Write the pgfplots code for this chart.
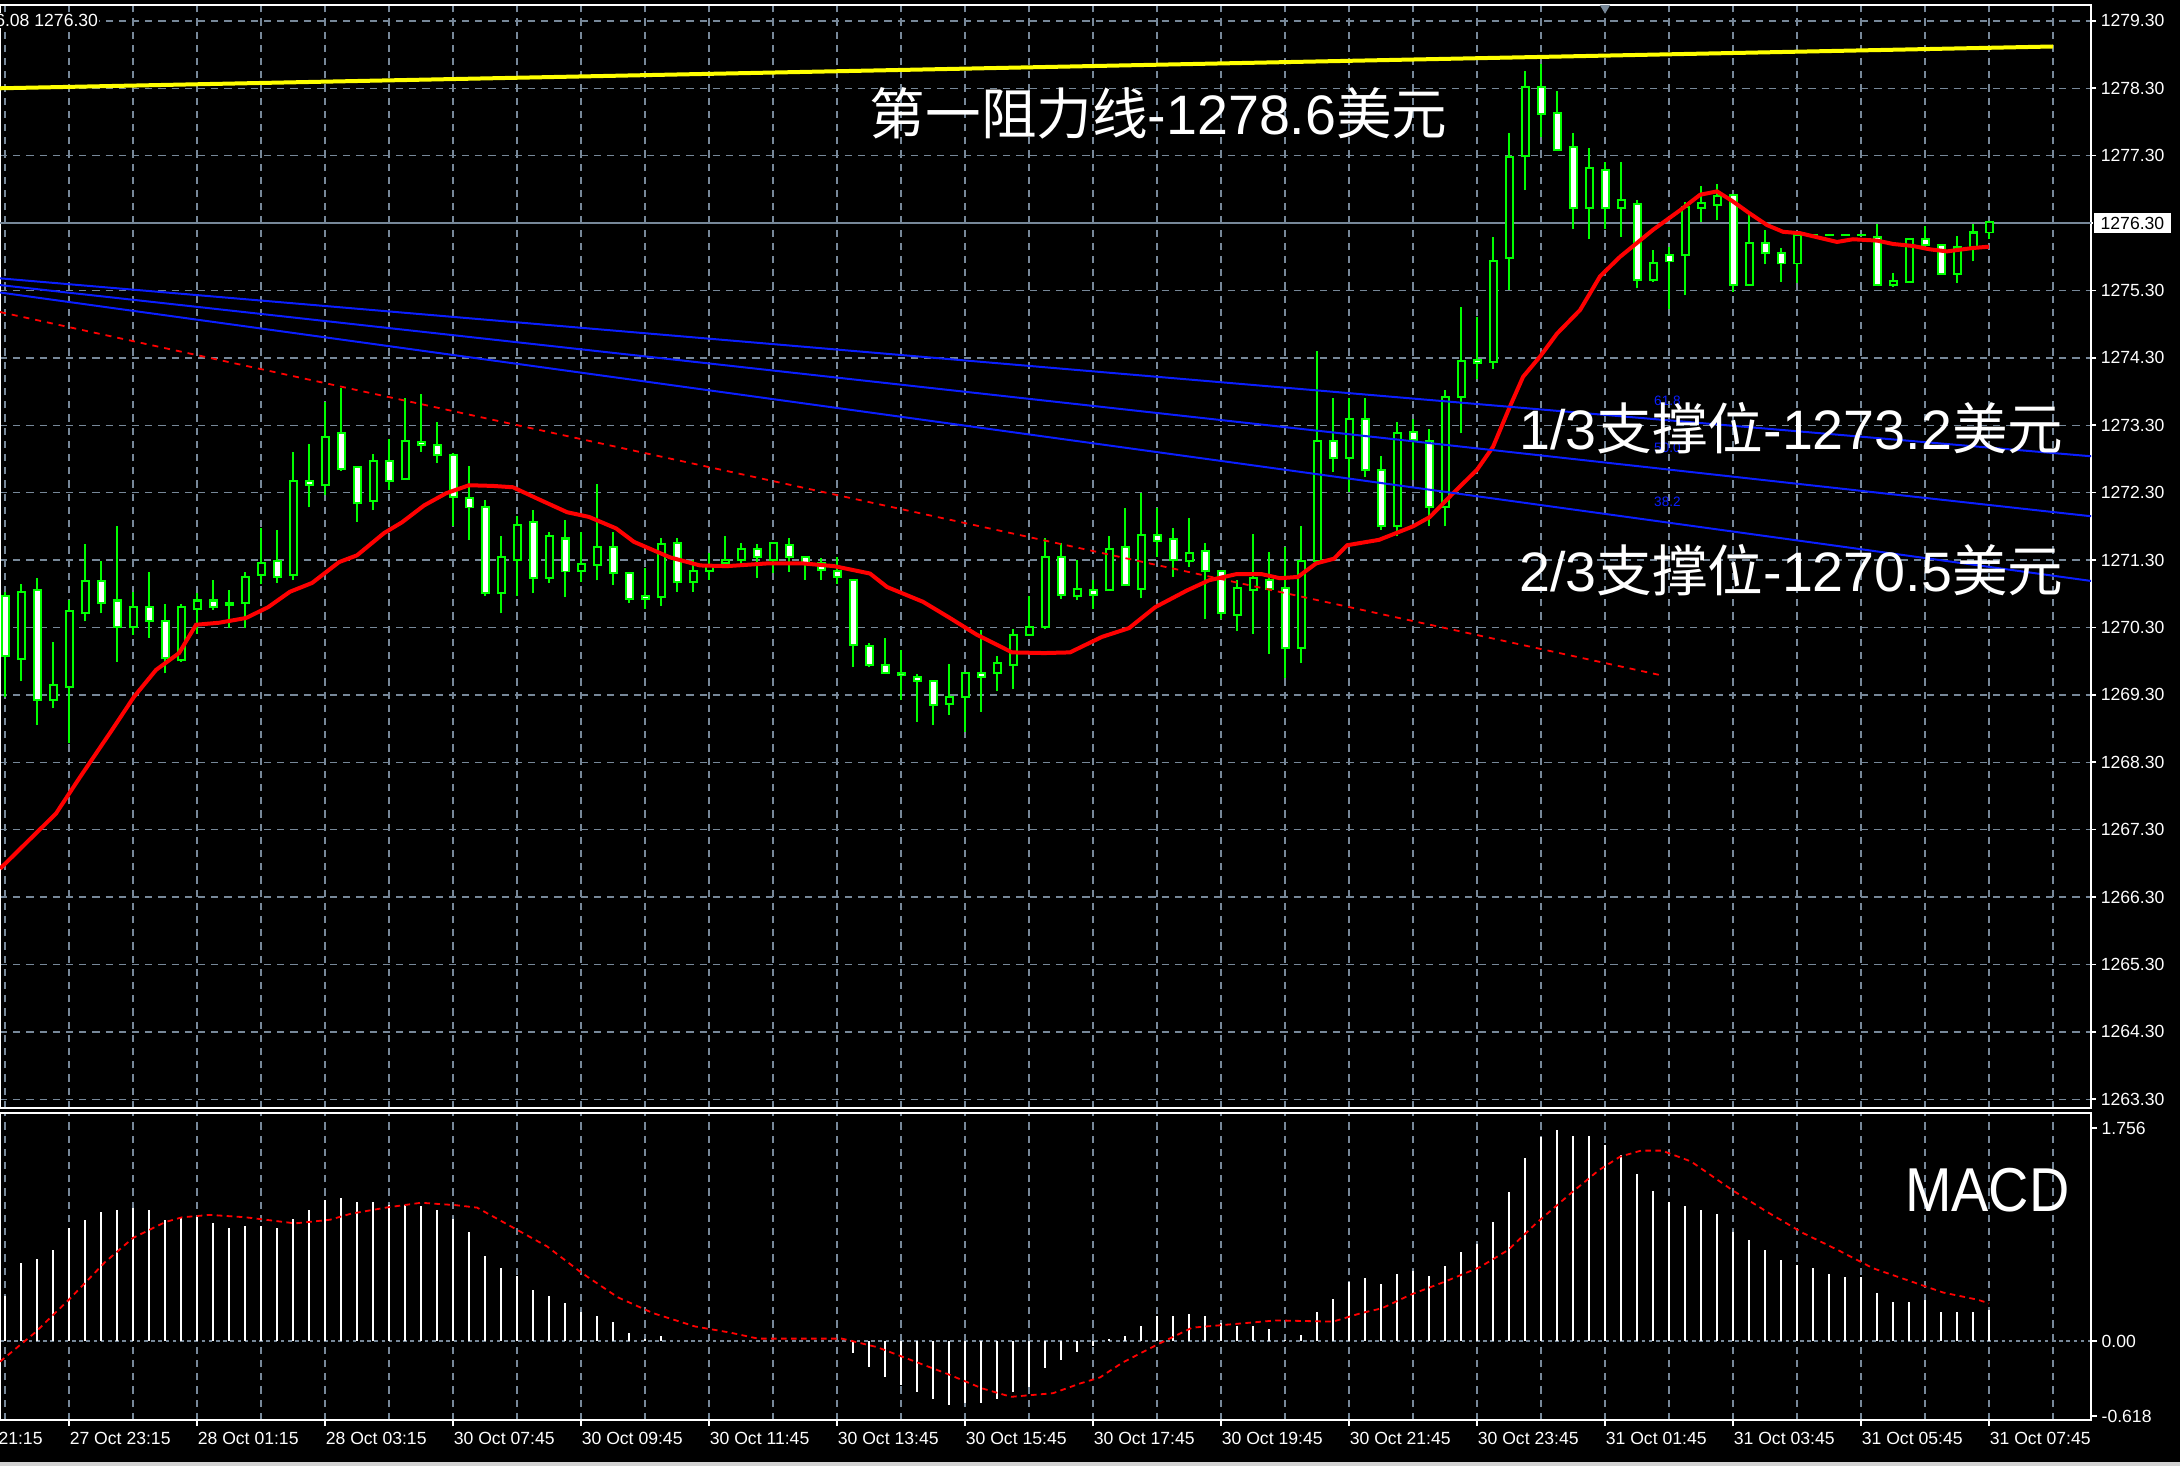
\documentclass[border=0pt]{standalone}
\usepackage{fontspec}
\setmainfont{Liberation Sans}
\newfontfamily\cjk{Noto Sans CJK SC}
\usepackage{graphicx}
\usepackage{pgfplots}
\usepackage{pgfplotstable}
\pgfplotsset{compat=1.18}
\definecolor{cgreen}{RGB}{0,255,0}
\definecolor{gridc}{RGB}{119,136,153}
\definecolor{cblue}{RGB}{10,30,255}
\definecolor{cyellow}{RGB}{255,255,0}
\definecolor{cred}{RGB}{255,0,0}
\newcommand{\tickfont}{\fontsize{4.4}{5}\selectfont}
\newcommand{\bigfont}{\fontsize{13.9}{16}\selectfont}

\pgfplotstableread{
j o h l c
0 1270.76 1270.83 1269.27 1269.87
1 1269.83 1270.95 1269.50 1270.82
2 1270.85 1271.03 1268.85 1269.23
3 1269.23 1270.08 1269.10 1269.45
4 1269.42 1270.71 1268.58 1270.55
5 1270.51 1271.54 1270.39 1270.99
6 1270.99 1271.28 1270.51 1270.67
7 1270.70 1271.81 1269.79 1270.30
8 1270.30 1270.83 1270.19 1270.61
9 1270.61 1271.12 1270.15 1270.40
10 1270.40 1270.65 1269.62 1269.84
11 1269.81 1270.65 1269.79 1270.61
12 1270.57 1270.81 1270.21 1270.70
13 1270.70 1271.00 1270.56 1270.61
14 1270.66 1270.86 1270.29 1270.64
15 1270.67 1271.12 1270.29 1271.05
16 1271.08 1271.77 1270.94 1271.26
17 1271.29 1271.75 1270.96 1271.05
18 1271.08 1272.91 1271.00 1272.48
19 1272.48 1273.02 1272.08 1272.41
20 1272.41 1273.65 1272.27 1273.13
21 1273.19 1273.85 1272.62 1272.65
22 1272.68 1272.70 1271.87 1272.14
23 1272.18 1272.87 1272.04 1272.77
24 1272.77 1273.09 1272.34 1272.48
25 1272.50 1273.70 1272.49 1273.07
26 1273.05 1273.76 1272.91 1273.01
27 1273.01 1273.35 1272.74 1272.86
28 1272.86 1272.89 1271.81 1272.24
29 1272.22 1272.70 1271.60 1272.08
30 1272.09 1272.19 1270.77 1270.81
31 1270.81 1271.66 1270.51 1271.35
32 1271.30 1271.95 1270.77 1271.82
33 1271.86 1272.04 1270.81 1271.04
34 1271.04 1271.72 1270.96 1271.65
35 1271.62 1271.90 1270.75 1271.13
36 1271.14 1271.71 1270.98 1271.24
37 1271.23 1272.43 1271.00 1271.50
38 1271.50 1271.72 1270.93 1271.11
39 1271.11 1271.11 1270.66 1270.72
40 1270.76 1271.18 1270.58 1270.72
41 1270.75 1271.62 1270.62 1271.54
42 1271.56 1271.62 1270.83 1270.97
43 1270.97 1271.30 1270.83 1271.14
44 1271.14 1271.41 1271.01 1271.23
45 1271.26 1271.66 1271.23 1271.30
46 1271.30 1271.56 1271.25 1271.46
47 1271.46 1271.54 1271.04 1271.35
48 1271.30 1271.56 1271.11 1271.56
49 1271.53 1271.62 1271.13 1271.35
50 1271.35 1271.35 1271.01 1271.24
51 1271.26 1271.33 1271.01 1271.15
52 1271.14 1271.35 1270.95 1271.05
53 1271.01 1271.01 1269.71 1270.04
54 1270.02 1270.07 1269.71 1269.74
55 1269.74 1270.14 1269.63 1269.63
56 1269.63 1269.97 1269.22 1269.60
57 1269.57 1269.61 1268.90 1269.51
58 1269.51 1269.51 1268.85 1269.15
59 1269.17 1269.76 1269.00 1269.27
60 1269.27 1269.63 1268.75 1269.63
61 1269.63 1270.26 1269.05 1269.57
62 1269.62 1269.88 1269.35 1269.78
63 1269.74 1270.28 1269.38 1270.19
64 1270.19 1270.76 1270.19 1270.31
65 1270.30 1271.62 1270.27 1271.35
66 1271.35 1271.56 1270.72 1270.78
67 1270.76 1271.30 1270.71 1270.87
68 1270.85 1271.00 1270.57 1270.78
69 1270.85 1271.66 1270.85 1271.47
70 1271.50 1272.07 1270.93 1270.93
71 1270.87 1272.30 1270.73 1271.67
72 1271.67 1272.07 1271.35 1271.59
73 1271.61 1271.77 1271.05 1271.30
74 1271.29 1271.92 1271.20 1271.41
75 1271.44 1271.55 1270.42 1271.14
76 1271.14 1271.14 1270.42 1270.52
77 1270.49 1271.00 1270.24 1270.88
78 1270.86 1271.69 1270.21 1271.03
79 1271.00 1271.42 1269.91 1270.87
80 1270.88 1271.50 1269.55 1269.99
81 1269.99 1271.81 1269.77 1271.29
82 1271.28 1274.40 1271.28 1273.07
83 1273.07 1273.70 1272.61 1272.82
84 1272.82 1273.70 1272.31 1273.40
85 1273.40 1273.70 1272.53 1272.63
86 1272.63 1272.84 1271.75 1271.80
87 1271.80 1273.35 1271.65 1273.19
88 1273.20 1273.40 1272.49 1273.08
89 1273.06 1273.25 1271.80 1272.09
90 1272.09 1273.82 1271.80 1273.72
91 1273.72 1275.06 1273.18 1274.25
92 1274.27 1274.91 1273.99 1274.22
93 1274.24 1276.10 1274.14 1275.74
94 1275.78 1277.63 1275.31 1277.28
95 1277.29 1278.55 1276.79 1278.32
96 1278.32 1278.66 1277.57 1277.92
97 1277.93 1278.26 1277.39 1277.39
98 1277.43 1277.63 1276.21 1276.52
99 1276.52 1277.41 1276.06 1277.11
100 1277.09 1277.20 1276.21 1276.52
101 1276.52 1277.21 1276.10 1276.64
102 1276.59 1276.64 1275.33 1275.46
103 1275.46 1275.90 1275.43 1275.71
104 1275.83 1275.95 1275.03 1275.73
105 1275.83 1276.62 1275.23 1276.54
106 1276.53 1276.85 1276.32 1276.60
107 1276.57 1276.88 1276.34 1276.70
108 1276.72 1276.72 1275.28 1275.38
109 1275.38 1276.42 1275.38 1276.01
110 1276.01 1276.20 1275.70 1275.85
111 1275.86 1275.93 1275.43 1275.70
112 1275.70 1276.15 1275.41 1276.12
113 1276.12 1276.12 1276.12 1276.12
114 1276.12 1276.12 1276.12 1276.12
115 1276.12 1276.12 1276.12 1276.12
116 1276.12 1276.12 1276.12 1276.12
117 1276.10 1276.29 1275.38 1275.38
118 1275.38 1275.56 1275.35 1275.44
119 1275.43 1276.07 1275.43 1276.07
120 1276.07 1276.26 1275.97 1275.97
121 1275.97 1275.97 1275.55 1275.55
122 1275.55 1276.11 1275.41 1275.95
123 1275.95 1276.29 1275.73 1276.16
124 1276.16 1276.31 1276.06 1276.31
}\candles

\pgfplotstableread{
j m
0 0.37
1 0.64
2 0.68
3 0.75
4 0.93
5 1.00
6 1.06
7 1.08
8 1.10
9 1.08
10 1.00
11 1.02
12 1.02
13 0.97
14 0.93
15 0.95
16 0.95
17 0.93
18 1.01
19 1.08
20 1.16
21 1.18
22 1.15
23 1.15
24 1.12
25 1.12
26 1.11
27 1.08
28 1.01
29 0.90
30 0.70
31 0.60
32 0.54
33 0.42
34 0.37
35 0.31
36 0.24
37 0.21
38 0.16
39 0.07
40 0.02
41 0.04
53 -0.10
54 -0.21
55 -0.30
56 -0.36
57 -0.42
58 -0.48
59 -0.53
60 -0.51
61 -0.51
62 -0.48
63 -0.42
64 -0.38
65 -0.22
66 -0.16
67 -0.09
68 -0.04
69 0.02
70 0.04
71 0.12
72 0.21
73 0.21
74 0.22
75 0.21
76 0.15
77 0.12
78 0.12
79 0.10
80 0.01
81 0.05
82 0.24
83 0.35
84 0.49
85 0.52
86 0.47
87 0.55
88 0.58
89 0.54
90 0.62
91 0.73
92 0.80
93 0.98
94 1.23
95 1.51
96 1.68
97 1.74
98 1.69
99 1.69
100 1.62
101 1.53
102 1.38
103 1.24
104 1.15
105 1.11
106 1.08
107 1.05
108 0.90
109 0.83
110 0.75
111 0.67
112 0.63
113 0.60
114 0.55
115 0.53
116 0.53
117 0.40
118 0.32
119 0.32
120 0.34
121 0.24
122 0.24
123 0.24
124 0.26
}\macd

\begin{document}
\begin{tikzpicture}
\fill[black] (0,0) rectangle (545pt,366.5pt);
\fill[gray!35] (0,0) rectangle (545pt,1pt);
\useasboundingbox (0,0) rectangle (545pt,366.5pt);

% ---------------- main price panel ----------------
\begin{axis}[
  at={(0pt,365.25pt)}, anchor=north west,
  width=522.75pt, height=275.75pt, scale only axis,
  xmin=-0.3125, xmax=130.375, ymin=1263.17, ymax=1279.536,
  clip=false,
  axis line style={white, line width=0.4pt},
  xtick={0,4,...,128}, xticklabels={}, xtick style={draw=none},
  ytick={1263.3,1264.3,1265.3,1266.3,1267.3,1268.3,1269.3,1270.3,1271.3,1272.3,1273.3,1274.3,1275.3,1276.3,1277.3,1278.3,1279.3},
  yticklabels={1263.30,1264.30,1265.30,1266.30,1267.30,1268.30,1269.30,1270.30,1271.30,1272.30,1273.30,1274.30,1275.30,1276.30,1277.30,1278.30,1279.30},
  yticklabel pos=right, ytick align=outside, major tick length=1.3pt,
  ytick style={white, line width=0.4pt},
  yticklabel style={font=\tickfont, text=white, anchor=west, inner sep=0pt, xshift=0.95pt},
  xmajorgrids, ymajorgrids,
  major grid style={gridc, line width=0.35pt, dash pattern=on 1.8pt off 1.5pt},
]
% current price line
\addplot[gridc, line width=0.45pt, forget plot] coordinates {(-0.3125,1276.3) (130.375,1276.3)};
% wicks
\addplot[draw=none, mark=none, forget plot, error bars/.cd, y dir=plus, y explicit, error mark=none,
  error bar style={draw=cgreen, solid, line width=0.45pt}]
  table[x=j, y=l, y error plus expr={\thisrow{h}-\thisrow{l}}] {\candles};
% body outlines
\addplot[draw=none, mark=none, forget plot, error bars/.cd, y dir=plus, y explicit, error mark=none,
  error bar style={draw=cgreen, solid, line width=2.25pt}]
  table[x=j, y expr={min(\thisrow{o},\thisrow{c})-0.0148}, y error plus expr={abs(\thisrow{c}-\thisrow{o})+0.0296}] {\candles};
% bearish bodies (white)
\addplot[draw=none, mark=none, forget plot, error bars/.cd, y dir=plus, y explicit, error mark=none,
  error bar style={draw=white, solid, line width=1.25pt}]
  table[x=j, y expr={min(\thisrow{o},\thisrow{c})+0.0148}, y error plus expr={ifthenelse(\thisrow{c}<\thisrow{o}, max(\thisrow{o}-\thisrow{c}-0.0296,0), 0)}] {\candles};
% bullish bodies (black)
\addplot[draw=none, mark=none, forget plot, error bars/.cd, y dir=plus, y explicit, error mark=none,
  error bar style={draw=black, solid, line width=1.25pt}]
  table[x=j, y expr={min(\thisrow{o},\thisrow{c})+0.0148}, y error plus expr={ifthenelse(\thisrow{c}<\thisrow{o}, 0, max(\thisrow{c}-\thisrow{o}-0.0296,0))}] {\candles};
% moving average
\addplot[cred, line width=1pt, forget plot] coordinates {
(-0.31,1266.72) (1.44,1267.13) (3.19,1267.54) (4.69,1268.08) (6.69,1268.78) (8.06,1269.27) (9.44,1269.67) (10.88,1269.92) (11.94,1270.34) (13.38,1270.37) (15.06,1270.44) (16.44,1270.60) (17.81,1270.83) (19.19,1270.96) (20.88,1271.27) (22.0,1271.37) (23.69,1271.70) (24.81,1271.86) (26.19,1272.11) (27.56,1272.29) (29.0,1272.41) (30.5,1272.40) (31.75,1272.38) (33.19,1272.22) (35.13,1272.01) (36.5,1271.94) (38.19,1271.77) (39.31,1271.57) (41.56,1271.34) (43.44,1271.22) (45.13,1271.21) (47.63,1271.25) (49.88,1271.25) (51.81,1271.21) (54.06,1271.10) (55.13,1270.90) (57.38,1270.68) (59.06,1270.44) (60.75,1270.19) (62.94,1269.93) (64.94,1269.92) (66.56,1269.93) (68.56,1270.16) (70.25,1270.29) (71.88,1270.60) (73.88,1270.85) (75.25,1271.00) (76.94,1271.09) (78.56,1271.09) (79.69,1271.03) (80.81,1271.05) (81.94,1271.25) (83.06,1271.32) (83.88,1271.52) (85.88,1271.60) (88.0,1271.80) (89.06,1271.94) (90.5,1272.29) (92.0,1272.64) (93.0,1272.98) (94.06,1273.58) (94.88,1274.02) (95.94,1274.32) (97.0,1274.66) (98.44,1275.01) (99.69,1275.51) (100.94,1275.80) (103.0,1276.20) (104.69,1276.49) (105.94,1276.72) (107.0,1276.77) (108.0,1276.62) (109.06,1276.44) (110.13,1276.27) (111.13,1276.17) (112.19,1276.15) (113.25,1276.09) (114.5,1276.02) (115.5,1276.06) (117.0,1276.04) (118.0,1275.99) (119.25,1275.96) (120.31,1275.91) (121.38,1275.88) (122.0,1275.90) (123.0,1275.93) (124.0,1275.95)};
% trend lines
\addplot[cyellow, line width=1pt, forget plot] coordinates {(-0.3125,1278.30) (128,1278.92)};
\addplot[cblue, line width=0.5pt, forget plot] coordinates {(-0.3125,1275.48) (130.375,1272.84)};
\addplot[cblue, line width=0.5pt, forget plot] coordinates {(-0.3125,1275.38) (130.375,1271.95)};
\addplot[cblue, line width=0.5pt, forget plot] coordinates {(-0.3125,1275.27) (130.375,1270.99)};
\addplot[cred, line width=0.45pt, dash pattern=on 1.5pt off 1.5pt, forget plot] coordinates {(-0.3125,1274.98) (103.7,1269.58)};
% fib labels
\node[text=cblue, font=\fontsize{3.4}{4}\selectfont, inner sep=0pt] at (axis cs:103.9,1273.67) {61.8};
\node[text=cblue, font=\fontsize{3.4}{4}\selectfont, inner sep=0pt] at (axis cs:103.9,1272.96) {50.0};
\node[text=cblue, font=\fontsize{3.4}{4}\selectfont, inner sep=0pt] at (axis cs:103.9,1272.16) {38.2};
% annotations
\node[anchor=west, text=white, font=\bigfont, inner sep=0pt] at (axis cs:54.0,1277.93) {{\cjk 第一阻力线}-1278.6{\cjk 美元}};
\node[anchor=west, text=white, font=\bigfont, inner sep=0pt] at (axis cs:94.6,1273.26) {1/3{\cjk 支撑位}-1273.2{\cjk 美元}};
\node[anchor=west, text=white, font=\bigfont, inner sep=0pt] at (axis cs:94.6,1271.15) {2/3{\cjk 支撑位}-1270.5{\cjk 美元}};
% price box
\node[anchor=west, fill=white, draw=black, text=black, font=\tickfont, inner xsep=1.8pt, inner ysep=1.2pt, xshift=0.4pt] at (axis cs:130.375,1276.3) {1276.30};
% top-left info text
\node[anchor=east, fill=black, text=white, font=\tickfont, inner sep=0.3pt] at (axis cs:5.94,1279.3) {1276.08 1276.30};
% shift marker
\fill[gridc] (axis cs:100,1279.536) -- ++(-1.3pt,0pt) -- ++(1.3pt,-2.2pt) -- ++(1.3pt,2.2pt) -- cycle;
\end{axis}

% ---------------- MACD panel ----------------
\begin{axis}[
  at={(0pt,88.25pt)}, anchor=north west,
  width=522.75pt, height=76.75pt, scale only axis,
  xmin=-0.3125, xmax=130.375, ymin=-0.651, ymax=1.880,
  clip=false,
  axis line style={white, line width=0.4pt},
  xtick={4,12,...,124},
  xticklabels={27 Oct 23:15,28 Oct 01:15,28 Oct 03:15,30 Oct 07:45,30 Oct 09:45,30 Oct 11:45,30 Oct 13:45,30 Oct 15:45,30 Oct 17:45,30 Oct 19:45,30 Oct 21:45,30 Oct 23:45,31 Oct 01:45,31 Oct 03:45,31 Oct 05:45,31 Oct 07:45},
  minor xtick={0,4,...,128}, xminorgrids, minor tick length=0pt,
  minor grid style={gridc, line width=0.35pt, dash pattern=on 1.8pt off 1.5pt},
  xtick align=outside, xtick pos=lower, major tick length=1.5pt,
  xtick style={white, line width=0.4pt},
  xticklabel style={font=\tickfont, text=white, anchor=north west, inner sep=0pt, yshift=-1.25pt},
  ytick={0}, yticklabels={0.00},
  extra y ticks={-0.618,1.756}, extra y tick labels={-0.618,1.756},
  extra y tick style={grid=none},
  ymajorgrids, major grid style={gridc, line width=0.4pt, dash pattern=on 0.9pt off 0.9pt},
  yticklabel pos=right, ytick align=outside,
  ytick style={white, line width=0.4pt},
  yticklabel style={font=\tickfont, text=white, anchor=west, inner sep=0pt, xshift=0.95pt},
]
\addplot[ycomb, draw=white, line width=0.45pt, mark=none, forget plot] table[x=j, y=m] {\macd};
\addplot[cred, line width=0.45pt, dash pattern=on 1.4pt off 1.1pt, forget plot] coordinates {
(-0.31,-0.17) (1.88,0.07) (4.06,0.35) (6.25,0.65) (8.0,0.85) (10.0,0.98) (11.06,1.02) (12.81,1.04) (15.06,1.02) (18.13,0.97) (20.31,1.00) (21.63,1.05) (23.81,1.10) (26.0,1.14) (28.19,1.12) (29.5,1.10) (31.69,0.94) (33.88,0.78) (36.06,0.56) (38.31,0.36) (40.5,0.23) (43.13,0.12) (45.31,0.07) (47.06,0.02) (52.31,0.02) (54.5,-0.05) (56.69,-0.16) (58.88,-0.27) (61.06,-0.39) (62.88,-0.46) (65.5,-0.43) (67.19,-0.35) (68.44,-0.30) (69.81,-0.18) (72.0,-0.03) (74.19,0.11) (75.94,0.13) (79.44,0.17) (83.0,0.16) (84.75,0.23) (86.06,0.27) (87.81,0.38) (90.0,0.49) (92.19,0.61) (93.94,0.75) (95.69,0.97) (97.88,1.22) (99.63,1.41) (100.94,1.52) (102.25,1.57) (103.56,1.57) (105.38,1.48) (108.0,1.24) (110.19,1.06) (112.38,0.89) (114.56,0.75) (116.75,0.60) (118.94,0.50) (121.13,0.40) (123.31,0.34) (124.0,0.31)};
\node[anchor=west, text=white, font=\fontsize{15.5}{17}\selectfont, inner sep=0pt] at (axis cs:118.7,1.245) {\scalebox{0.9}[1]{MACD}};
\node[anchor=north west, text=white, font=\tickfont, inner sep=0pt, yshift=-2.75pt] at (axis cs:-4,-0.651) {27 Oct 21:15};
\end{axis}
\end{tikzpicture}
\end{document}
